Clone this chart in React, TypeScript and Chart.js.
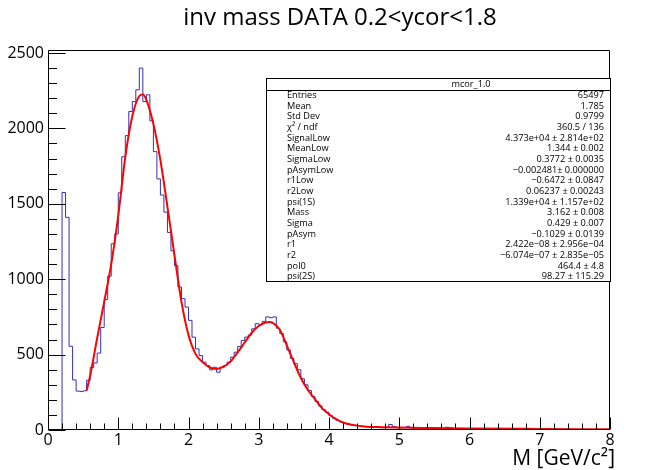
import React, { useEffect, useRef } from 'react';
import { Chart, registerables } from 'chart.js';

Chart.register(...registerables);

const TITLE = 'inv mass DATA 0.2<ycor<1.8';
const X_TITLE = 'M [GeV/c²]';

const X_MIN = 0;
const X_MAX = 8;
const Y_MIN = 0;
const Y_MAX = 2520;

const BIN_START = 0.2;
const BIN_WIDTH = 0.05;
const counts = [
  1575, 1410, 555, 332, 258, 255, 260, 330, 415, 445,
  510, 680, 865, 1020, 1235, 1300, 1573, 1812, 1952, 2112,
  2178, 2256, 2400, 2178, 2223, 2050, 1846, 1665, 1558, 1445,
  1310, 1188, 1090, 948, 871, 815, 727, 616, 538, 494,
  450, 428, 399, 416, 383, 416, 428, 450, 483, 516,
  554, 594, 616, 630, 671, 705, 700, 720, 750, 745,
  750, 675, 640, 585, 530, 475, 440, 400, 340, 300,
  262, 222, 190, 160, 135, 118, 95, 78, 64, 54,
  45, 40, 35, 31, 28, 25, 23, 20, 19, 18,
  17, 16, 18, 36, 22, 15, 14, 16, 24, 14,
  13, 12, 12, 11, 12, 10, 10, 11, 9, 18,
  16, 9, 8, 7, 7, 8, 6, 6, 5, 6,
  5, 5, 4, 5, 4, 4, 5, 3, 4, 4,
  3, 3, 4, 3, 3, 2, 3, 3, 2, 3,
  2, 2, 3, 2, 2, 2, 2, 1, 2, 2,
  1, 2, 1, 1, 2, 1,
];

const fitX = [
  0.55, 0.6, 0.7, 0.8, 0.9, 1.0, 1.1, 1.2, 1.3, 1.35, 1.4, 1.5, 1.6, 1.7, 1.8, 1.9,
  2.0, 2.1, 2.2, 2.3, 2.4, 2.5, 2.6, 2.7, 2.8, 2.9, 3.0, 3.1, 3.15, 3.2, 3.3, 3.4,
  3.5, 3.6, 3.7, 3.8, 3.9, 4.0, 4.1, 4.2, 4.3, 4.4, 4.5, 4.75, 5.0, 5.5, 6.0, 7.0, 8.0,
];
const fitY = [
  262, 360, 610, 850, 1100, 1420, 1810, 2080, 2215, 2225, 2190, 2030, 1790, 1480, 1160, 850,
  630, 505, 450, 415, 405, 420, 455, 515, 580, 645, 690, 713, 716, 710, 665, 560,
  450, 345, 265, 205, 145, 105, 72, 50, 37, 29, 24, 19, 16, 13, 10, 7, 5,
];

const xTickValues = [0, 1, 2, 3, 4, 5, 6, 7, 8];
const yTickValues = [0, 500, 1000, 1500, 2000, 2500];

const statTitle = 'mcor_1.0';
const statLabels = [
  'Entries', 'Mean', 'Std Dev', 'χ² / ndf', 'SignalLow', 'MeanLow', 'SigmaLow', 'pAsymLow',
  'r1Low', 'r2Low', 'psi(1S)', 'Mass', 'Sigma', 'pAsym', 'r1', 'r2', 'pol0', 'psi(2S)',
];
const statValues = [
  '65497', '1.785', '0.9799', '360.5 / 136', '4.373e+04 ± 2.814e+02', '1.344 ± 0.002',
  '0.3772 ± 0.0035', '−0.002481± 0.000000', '−0.6472 ± 0.0847', '0.06237 ± 0.00243',
  '1.339e+04 ± 1.157e+02', '3.162 ± 0.008', '0.429 ± 0.007', '−0.1029 ± 0.0139',
  '2.422e−08 ± 2.956e−04', '−6.074e−07 ± 2.835e−05', '464.4 ± 4.8', '98.27 ± 115.29',
];

const FONT = '"Open Sans", "Noto Sans", sans-serif';

const rootFrame = {
  id: 'rootFrame',
  afterDatasetsDraw(chart: any) {
    const { ctx, chartArea: a, scales } = chart;
    const xs = scales.x;
    const ys = scales.y;
    const L = Math.round(a.left) + 0.5;
    const R = Math.round(a.right) - 0.5;
    const T = Math.round(a.top) + 0.5;
    const B = Math.round(a.bottom) - 0.5;
    ctx.save();
    ctx.strokeStyle = '#000';
    ctx.lineWidth = 1;
    ctx.beginPath();
    ctx.rect(L, T, R - L, B - T);
    ctx.stroke();
    ctx.beginPath();
    for (let i = 0; i <= (X_MAX - X_MIN) * 5; i++) {
      const v = X_MIN + i * 0.2;
      const px = Math.round(xs.getPixelForValue(v)) + 0.5;
      const len = i % 5 === 0 ? 12 : 6;
      ctx.moveTo(px, B);
      ctx.lineTo(px, B - len);
    }
    for (let v = Y_MIN; v <= Y_MAX; v += 100) {
      const py = Math.round(ys.getPixelForValue(v)) + 0.5;
      const len = v % 500 === 0 ? 17 : 8.5;
      ctx.moveTo(L, py);
      ctx.lineTo(L + len, py);
    }
    ctx.stroke();
    ctx.restore();
  },
  afterDraw(chart: any) {
    const { ctx, chartArea: a } = chart;
    ctx.save();
    // main title
    ctx.fillStyle = '#000';
    ctx.font = `24px ${FONT}`;
    ctx.textAlign = 'center';
    ctx.textBaseline = 'middle';
    ctx.fillText(TITLE, 340, 18);
    // x axis title
    ctx.font = `21px ${FONT}`;
    ctx.textAlign = 'right';
    ctx.textBaseline = 'alphabetic';
    ctx.fillText(X_TITLE, a.right + 5, 465);

    // stats box
    const bx1 = 266, by1 = 78, bx2 = 611, by2 = 282, sep = 90;
    ctx.fillStyle = '#fff';
    ctx.fillRect(bx1, by1, bx2 - bx1, by2 - by1);
    ctx.strokeStyle = '#000';
    ctx.lineWidth = 1;
    ctx.strokeRect(bx1 + 0.5, by1 + 0.5, bx2 - bx1 - 1, by2 - by1 - 1);
    ctx.beginPath();
    ctx.moveTo(bx1, sep + 0.5);
    ctx.lineTo(bx2, sep + 0.5);
    ctx.stroke();
    ctx.fillStyle = '#000';
    ctx.font = `9.2px ${FONT}`;
    ctx.textBaseline = 'middle';
    ctx.textAlign = 'center';
    ctx.fillText(statTitle, 471, 84);
    const rowH = (by2 - sep) / statLabels.length;
    statLabels.forEach((lab, i) => {
      const yy = sep + rowH * (i + 0.5);
      ctx.textAlign = 'left';
      ctx.fillText(lab, 287, yy);
      ctx.textAlign = 'right';
      ctx.fillText(statValues[i], bx2 - 7, yy);
    });
    ctx.restore();
  },
};

export default function App() {
  const ref = useRef<HTMLCanvasElement | null>(null);

  useEffect(() => {
    document.body.style.margin = '0';
    const canvas = ref.current;
    if (!canvas) return;

    const histPoints = [{ x: BIN_START, y: 0 }];
    counts.forEach((c, i) => {
      histPoints.push({ x: +(BIN_START + i * BIN_WIDTH).toFixed(2), y: c });
    });
    histPoints.push({ x: X_MAX, y: counts[counts.length - 1] });

    const fitPoints = fitX.map((x, i) => ({ x, y: fitY[i] }));

    const chart = new Chart(canvas, {
      type: 'line',
      data: {
        datasets: [
          {
            label: 'fit',
            data: fitPoints,
            borderColor: '#ff0000',
            borderWidth: 2,
            pointRadius: 0,
            fill: false,
            cubicInterpolationMode: 'monotone',
            order: 1,
          },
          {
            label: 'mcor_1.0',
            data: histPoints,
            borderColor: '#3232b8',
            borderWidth: 1,
            pointRadius: 0,
            fill: false,
            stepped: 'before',
            order: 2,
          },
        ],
      },
      options: {
        animation: false,
        responsive: false,
        maintainAspectRatio: false,
        layout: { padding: { left: 0, right: 58, top: 50, bottom: 0 } },
        font: { family: FONT },
        plugins: {
          legend: { display: false },
          tooltip: { enabled: false },
          title: { display: false },
        },
        scales: {
          x: {
            type: 'linear',
            min: X_MIN,
            max: X_MAX,
            grid: { display: false, drawTicks: false },
            border: { display: false },
            ticks: {
              color: '#000',
              font: { family: FONT, size: 16 },
              padding: 1,
              maxRotation: 0,
              callback: (v: any) => String(v),
            },
            afterBuildTicks: (s: any) => {
              s.ticks = xTickValues.map((v) => ({ value: v }));
            },
            afterFit: (s: any) => {
              s.height = 40;
            },
          },
          y: {
            type: 'linear',
            min: Y_MIN,
            max: Y_MAX,
            grid: { display: false, drawTicks: false },
            border: { display: false },
            ticks: {
              color: '#000',
              font: { family: FONT, size: 16 },
              padding: 4,
              callback: (v: any) => String(v),
            },
            afterBuildTicks: (s: any) => {
              s.ticks = yTickValues.map((v) => ({ value: v }));
            },
            afterFit: (s: any) => {
              s.width = 48;
            },
          },
        },
      },
      plugins: [rootFrame],
    } as any);

    return () => chart.destroy();
  }, []);

  return <canvas ref={ref} width={668} height={470} style={{ display: 'block' }} />;
}
